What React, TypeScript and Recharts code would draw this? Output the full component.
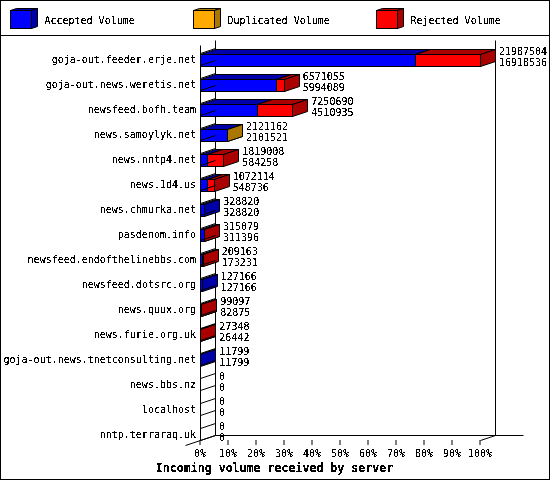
import { Bar, BarChart, LabelList, XAxis, YAxis, usePlotArea } from 'recharts'

const hosts = [
  'goja-out.feeder.erje.net',
  'goja-out.news.weretis.net',
  'newsfeed.bofh.team',
  'news.samoylyk.net',
  'news.nntp4.net',
  'news.1d4.us',
  'news.chmurka.net',
  'pasdenom.info',
  'newsfeed.endofthelinebbs.com',
  'newsfeed.dotsrc.org',
  'news.quux.org',
  'news.furie.org.uk',
  'goja-out.news.tnetconsulting.net',
  'news.bbs.nz',
  'localhost',
  'nntp.terraraq.uk',
]
const accepted = [16918536, 5994089, 4510935, 2101521, 584258, 548736, 328820, 311396, 173231, 127166, 82875, 26442, 11799, 0, 0, 0]
const duplicated = [0, 0, 0, 19641, 0, 0, 0, 0, 0, 0, 0, 0, 0, 0, 0, 0]
const rejected = [5068968, 576966, 2739755, 0, 1234750, 523378, 0, 3683, 35932, 0, 16222, 906, 0, 0, 0, 0]
const tickPercents = [0, 10, 20, 30, 40, 50, 60, 70, 80, 90, 100]

const seriesNames = ['Accepted Volume', 'Duplicated Volume', 'Rejected Volume']
const seriesFront = ['#0000ff', '#ffaa00', '#ff0000']
const seriesDark = ['#0000aa', '#aa7700', '#aa0000']

const rows = hosts.map((host, i) => ({
  host,
  accepted: accepted[i],
  duplicated: duplicated[i],
  rejected: rejected[i],
  total: accepted[i] + duplicated[i] + rejected[i],
}))
const maxTotal = Math.max(...rows.map((row) => row.total))

const DEPTH_X = 15
const DEPTH_Y = 5
const BAR_SHIFT = 6.5

// thresholds the antialiasing away, the original is a GD bitmap font
function PixelFilter() {
  return (
    <filter id="pixel" x="-5%" y="-20%" width="110%" height="140%">
      <feComponentTransfer>
        <feFuncA type="discrete" tableValues="0 0 1 1 1" />
      </feComponentTransfer>
    </filter>
  )
}

function PixelText({ x, y, anchor = 'start', bold = false, children }: any) {
  return (
    <text
      transform={`translate(${x} ${y}) scale(1 1.1)`}
      textAnchor={anchor}
      fontFamily="'DejaVu Sans Mono', monospace"
      fontSize={bold ? 11.6 : 10}
      fontWeight={bold ? 'bold' : 'normal'}
      fill="#000"
      filter="url(#pixel)"
    >
      {children}
    </text>
  )
}

function Box3D({ x, y, width, height, fill, dark, dx, dy }: any) {
  const x1 = Math.round(x) + 0.5
  const x2 = Math.round(x + width) + 0.5
  const y1 = Math.round(y) + 0.5
  const y2 = Math.round(y + height) + 0.5
  return (
    <g stroke="#000" strokeWidth={1}>
      <polygon fill={dark} points={`${x1},${y1} ${x1 + dx},${y1 - dy} ${x2 + dx},${y1 - dy} ${x2},${y1}`} />
      <polygon fill={dark} points={`${x2},${y1} ${x2 + dx},${y1 - dy} ${x2 + dx},${y2 - dy} ${x2},${y2}`} />
      <rect x={x1} y={y1} width={x2 - x1} height={y2 - y1} fill={fill} />
    </g>
  )
}

function makeBarShape(index: number) {
  return function BarShape(props: any) {
    if (!(props.width > 0)) return null
    return (
      <Box3D
        x={props.x}
        y={props.y + BAR_SHIFT}
        width={props.width}
        height={props.height}
        fill={seriesFront[index]}
        dark={seriesDark[index]}
        dx={DEPTH_X}
        dy={DEPTH_Y}
      />
    )
  }
}

function HostTick({ x, y, payload }: any) {
  const bottom = Math.round(y + BAR_SHIFT + 6) + 0.5
  const top = Math.round(y + BAR_SHIFT - 6) + 0.5
  const left = x + 4.5
  return (
    <g>
      <line x1={left} y1={bottom} x2={left + DEPTH_X} y2={bottom - DEPTH_Y} stroke="#000" />
      <line x1={left} y1={top} x2={left + DEPTH_X} y2={top - DEPTH_Y} stroke="#000" />
      <PixelText x={x} y={y + BAR_SHIFT + 4} anchor="end">
        {payload.value}
      </PixelText>
    </g>
  )
}

function PercentTick({ x, y, payload }: any) {
  return (
    <PixelText x={x} y={y + 10} anchor="middle">
      {`${Math.round((payload.value / maxTotal) * 100)}%`}
    </PixelText>
  )
}

function ValueLabels({ x, y, width, index }: any) {
  const labelX = x + width + DEPTH_X + 4
  return (
    <g>
      <PixelText x={labelX} y={y + 8}>
        {rows[index].total}
      </PixelText>
      <PixelText x={labelX} y={y + 19}>
        {rows[index].accepted}
      </PixelText>
    </g>
  )
}

function Frame() {
  const plot = usePlotArea()
  if (!plot) return null
  const left = plot.x + 0.5
  const right = plot.x + plot.width + 0.5
  const top = plot.y + 0.5
  const bottom = plot.y + plot.height + 0.5
  return (
    <g stroke="#000" strokeWidth={1} fill="none">
      <rect x={0.5} y={0.5} width={549} height={479} />
      <line x1={0} y1={35.5} x2={550} y2={35.5} />
      <line x1={left} y1={top + DEPTH_Y} x2={left} y2={bottom} />
      <line x1={left + DEPTH_X} y1={top} x2={left + DEPTH_X} y2={bottom - DEPTH_Y} />
      <line x1={right + DEPTH_X} y1={top} x2={right + DEPTH_X} y2={bottom - DEPTH_Y} />
      <line x1={left + DEPTH_X} y1={bottom - DEPTH_Y} x2={right + 43} y2={bottom - DEPTH_Y} />
      <line x1={left - DEPTH_X} y1={bottom + DEPTH_Y} x2={left + DEPTH_X} y2={bottom - DEPTH_Y} />
      <line x1={right} y1={bottom} x2={right + DEPTH_X} y2={bottom - DEPTH_Y} />
    </g>
  )
}

function LegendRow() {
  return (
    <g>
      {seriesNames.map((name, i) => (
        <g key={name}>
          <Box3D x={10 + 183 * i} y={10} width={21} height={18} fill={seriesFront[i]} dark={seriesDark[i]} dx={6} dy={2} />
          <PixelText x={44.5 + 183 * i} y={24}>
            {name}
          </PixelText>
        </g>
      ))}
    </g>
  )
}

export default function App() {
  return (
    <div style={{ position: 'absolute', left: 0, top: 0, width: 550, height: 480, background: '#fff' }}>
      <BarChart
        width={550}
        height={480}
        data={rows}
        layout="vertical"
        barSize={12}
        barCategoryGap={0}
        margin={{ top: 40, right: 70, bottom: 0, left: 0 }}
      >
        <defs>
          <PixelFilter />
        </defs>
        <Frame />
        <LegendRow />
        <XAxis
          type="number"
          domain={[0, maxTotal]}
          ticks={tickPercents.map((p) => (p / 100) * maxTotal)}
          interval={0}
          height={40}
          axisLine={false}
          tickLine={{ stroke: '#000' }}
          tickSize={5}
          tick={<PercentTick />}
        />
        <YAxis
          type="category"
          dataKey="host"
          width={200}
          interval={0}
          axisLine={false}
          tickLine={false}
          tickSize={0}
          tickMargin={4}
          tick={<HostTick />}
        />
        <Bar dataKey="accepted" stackId="volume" name={seriesNames[0]} isAnimationActive={false} shape={makeBarShape(0)} />
        <Bar dataKey="duplicated" stackId="volume" name={seriesNames[1]} isAnimationActive={false} shape={makeBarShape(1)} />
        <Bar dataKey="rejected" stackId="volume" name={seriesNames[2]} isAnimationActive={false} shape={makeBarShape(2)}>
          <LabelList dataKey="total" content={<ValueLabels />} />
        </Bar>
        <PixelText x={274.5} y={472} anchor="middle" bold>
          Incoming volume received by server
        </PixelText>
      </BarChart>
    </div>
  )
}
